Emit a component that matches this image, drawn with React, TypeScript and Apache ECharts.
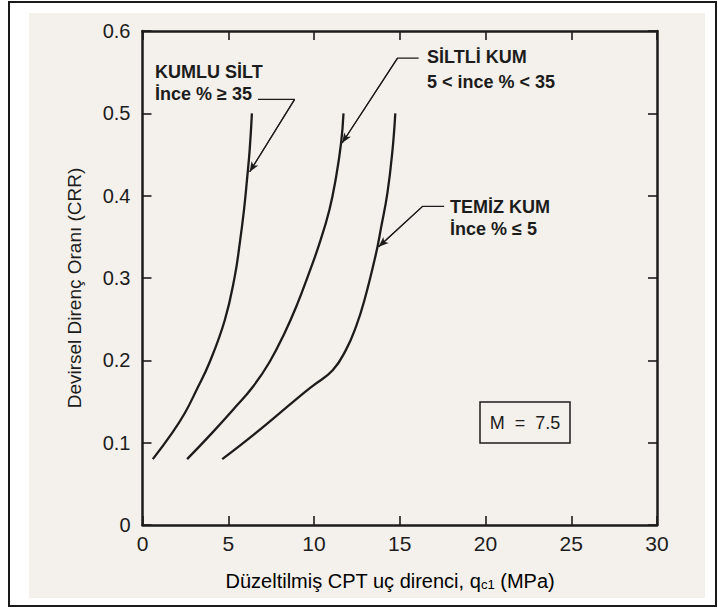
import React, { useEffect, useRef } from "react";
import * as echarts from "echarts";

// Curves: [qc1 (MPa), CRR]
const kumluSilt: [number, number][] = [
  [0.6, 0.08], [1.7, 0.111], [2.47, 0.136], [3.15, 0.164], [3.92, 0.198],
  [4.8, 0.249], [5.38, 0.302], [5.67, 0.342], [5.92, 0.383],
  [6.11, 0.423], [6.25, 0.456], [6.38, 0.5],
];
const siltliKum: [number, number][] = [
  [2.6, 0.08], [4.02, 0.111], [5.28, 0.14], [6.44, 0.168], [7.41, 0.198],
  [8.28, 0.233], [9.0, 0.267], [9.64, 0.302], [10.32, 0.342], [10.9, 0.383],
  [11.29, 0.423], [11.58, 0.464], [11.72, 0.5],
];
const temizKum: [number, number][] = [
  [4.65, 0.08], [6.56, 0.111], [8.92, 0.152], [9.93, 0.169], [11.09, 0.188],
  [11.87, 0.213], [12.45, 0.241], [12.94, 0.273], [13.62, 0.33],
  [13.9, 0.36], [14.28, 0.403], [14.58, 0.456], [14.74, 0.5],
];

// Leader lines (text end -> corner -> arrow tip)
const leaderKumluSilt: [number, number][] = [[6.73, 0.517], [8.87, 0.517], [6.25, 0.429]];
const leaderSiltliKum: [number, number][] = [[16.1, 0.567], [14.87, 0.567], [11.64, 0.464]];
const leaderTemizKum: [number, number][] = [[17.59, 0.387], [16.33, 0.387], [13.77, 0.338]];

const xTicks = { min: 0, max: 30, interval: 5 };
const yTicks = { min: 0, max: 0.6, interval: 0.1 };

const INK = "#1c1c1c";
const FONT = '"Liberation Sans", Arial, sans-serif';

function leaderSeries(name: string, pts: [number, number][]) {
  const n = pts.length;
  return {
    name,
    type: "line",
    data: pts,
    symbol: "none",
    silent: true,
    lineStyle: { color: INK, width: 1.2 },
    z: 3,
    markLine: {
      silent: true,
      symbol: ["none", "arrow"],
      symbolSize: [6, 10],
      label: { show: false },
      lineStyle: { color: INK, width: 1.2, type: "solid" },
      emphasis: { disabled: true },
      data: [[{ coord: pts[n - 2] }, { coord: pts[n - 1] }]],
    },
  };
}

function curveSeries(name: string, pts: [number, number][]) {
  return {
    name,
    type: "line",
    data: pts,
    symbol: "none",
    smooth: 0.45,
    silent: true,
    lineStyle: { color: INK, width: 2.3 },
    z: 4,
  };
}

export default function App() {
  const ref = useRef<HTMLDivElement>(null);
  useEffect(() => {
    if (!ref.current) return;
    const chart = echarts.init(ref.current, null, { renderer: "svg" });
    const axisLine = { show: true, onZero: false, lineStyle: { color: INK, width: 2.5 } };
    const axisTick = { show: true, inside: true, length: 9, lineStyle: { color: INK, width: 1.6 } };
    const boldText = (text: string, x: number, y: number) => ({
      type: "text",
      x,
      y,
      style: {
        text,
        fill: INK,
        fontSize: 18,
        fontWeight: "bold",
        fontFamily: FONT,
        align: "left",
        verticalAlign: "middle",
      },
    });
    chart.setOption({
      animation: false,
      backgroundColor: "transparent",
      grid: { left: 142.5, top: 31, right: 61, bottom: 83 },
      xAxis: [
        {
          type: "value",
          position: "bottom",
          ...xTicks,
          axisLine,
          axisTick,
          splitLine: { show: false },
          axisLabel: { fontSize: 21, margin: 8, color: INK, fontFamily: FONT },
        },
        {
          type: "value",
          position: "top",
          ...xTicks,
          axisLine,
          axisTick,
          splitLine: { show: false },
          axisLabel: { show: false },
        },
      ],
      yAxis: [
        {
          type: "value",
          position: "left",
          ...yTicks,
          axisLine,
          axisTick,
          splitLine: { show: false },
          axisLabel: {
            fontSize: 20,
            margin: 12,
            color: INK,
            fontFamily: FONT,
            formatter: (v: number) => (v === 0 ? "0" : v.toFixed(1)),
          },
        },
        {
          type: "value",
          position: "right",
          ...yTicks,
          axisLine,
          axisTick,
          splitLine: { show: false },
          axisLabel: { show: false },
        },
      ],
      series: [
        curveSeries("KUMLU SİLT", kumluSilt),
        curveSeries("SİLTLİ KUM", siltliKum),
        curveSeries("TEMİZ KUM", temizKum),
        leaderSeries("leader1", leaderKumluSilt),
        leaderSeries("leader2", leaderSiltliKum),
        leaderSeries("leader3", leaderTemizKum),
      ],
      graphic: [
        boldText("KUMLU SİLT", 155, 71.5),
        boldText("İnce % ≥ 35", 155, 94),
        boldText("SİLTLİ KUM", 427, 57),
        boldText("5 < ince % < 35", 427, 82),
        boldText("TEMİZ KUM", 450, 206.5),
        boldText("İnce % ≤ 5", 450, 228.5),
        {
          type: "rect",
          shape: { x: 480, y: 402, width: 90, height: 41 },
          style: { fill: "none", stroke: INK, lineWidth: 1.5 },
        },
        {
          type: "text",
          x: 525,
          y: 422.5,
          style: {
            text: "M  =  7.5",
            fill: INK,
            fontSize: 18,
            fontFamily: FONT,
            align: "center",
            verticalAlign: "middle",
          },
        },
        {
          type: "text",
          x: 74,
          y: 288,
          rotation: Math.PI / 2,
          style: {
            text: "Devirsel Direnç Oranı (CRR)",
            fill: INK,
            fontSize: 19,
            fontFamily: FONT,
            align: "center",
            verticalAlign: "middle",
          },
        },
        {
          type: "text",
          x: 390,
          y: 580,
          style: {
            text: "{a|Düzeltilmiş CPT uç direnci, q}{s|c1}{a| (MPa)}",
            align: "center",
            verticalAlign: "middle",
            rich: {
              a: { fontSize: 20, fontFamily: FONT, color: INK, lineHeight: 22, verticalAlign: "bottom" },
              s: { fontSize: 13, fontFamily: FONT, color: INK, lineHeight: 12, verticalAlign: "bottom" },
            },
          },
        },
      ],
    });
    return () => chart.dispose();
  }, []);

  return (
    <div style={{ position: "fixed", left: 0, top: 0, width: 718, height: 608, background: "#ffffff" }}>
      <div
        style={{
          position: "absolute",
          left: 8,
          top: 1,
          width: 709,
          height: 606,
          border: "2px solid #1a1a1a",
          boxSizing: "border-box",
        }}
      />
      <div style={{ position: "absolute", left: 29, top: 13, width: 676, height: 585, background: "#f4f0eb" }} />
      <div ref={ref} style={{ position: "absolute", left: 0, top: 0, width: 718, height: 608 }} />
    </div>
  );
}
